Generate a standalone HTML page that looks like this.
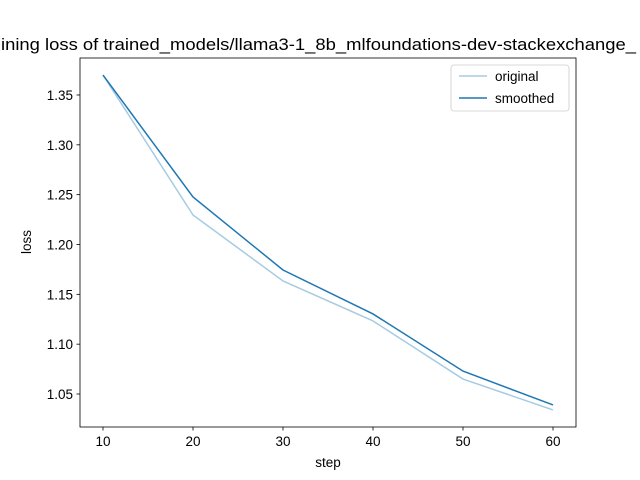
<!DOCTYPE html>
<html><head><meta charset="utf-8"><style>
html,body{margin:0;padding:0;background:#fff;overflow:hidden}
svg{display:block;font-family:"Liberation Sans","DejaVu Sans",sans-serif}
</style></head><body>
<svg width="640" height="480" viewBox="0 0 640 480">
<rect width="640" height="480" fill="#fff"/>
<text x="1" y="50" font-size="16.5" fill="#000" textLength="635" lengthAdjust="spacingAndGlyphs">ining loss of trained_models/llama3-1_8b_mlfoundations-dev-stackexchange_</text>
<g id="axes"></g>
<g id="plot"></g>
<rect x="80" y="58" width="496" height="369" fill="none" stroke="#000" stroke-width="0.8"/>
<text x="328" y="467" text-anchor="middle" font-size="13.5">step</text>
<text transform="translate(31,242) rotate(-90)" text-anchor="middle" font-size="13.5">loss</text>
<g>
<rect x="451" y="65" width="118" height="46" rx="3" fill="#fff" fill-opacity="0.8" stroke="#ccc" stroke-width="0.8"/>
<line x1="459" y1="76" x2="487" y2="76" stroke="#a6cbe3" stroke-width="1.5"/>
<text x="495" y="81" font-size="13.5">original</text>
<line x1="459" y1="98" x2="487" y2="98" stroke="#1f77b4" stroke-width="1.5"/>
<text x="495" y="103" font-size="13.5">smoothed</text>
</g>
</svg>
<script>
const steps=[10,20,30,40,50,60];
const original=[1.370,1.2296,1.1634,1.1233,1.065,1.034];
const smoothed=[1.370,1.2477,1.1744,1.1303,1.073,1.039];
const xTicks=[10,20,30,40,50,60];
const yTicks=[1.05,1.10,1.15,1.20,1.25,1.30,1.35];
const NS="http://www.w3.org/2000/svg";
function sx(v){return 103+(v-10)*9;}
function sy(v){return 394-(v-1.05)*996.7;}
const axes=document.getElementById('axes'),plot=document.getElementById('plot');
function mk(t,a,p){const e=document.createElementNS(NS,t);for(const k in a)e.setAttribute(k,a[k]);p.appendChild(e);return e;}
xTicks.forEach(v=>{
 const l=mk('line',{x1:sx(v),x2:sx(v),y1:427,y2:430.5,stroke:'#000','stroke-width':0.8},axes);
 
 
 const t=mk('text',{x:sx(v),y:446,'text-anchor':'middle','font-size':13.5},axes);
 
 
 t.textContent=v;
});
yTicks.forEach(v=>{
 const l=mk('line',{x1:76.5,x2:80,y1:sy(v),y2:sy(v),stroke:'#000','stroke-width':0.8},axes);
 
 
 const t=mk('text',{x:73,y:sy(v)+5,'text-anchor':'end','font-size':13.5},axes);
 
 
 t.textContent=v.toFixed(2);
});
const p1=mk('polyline',{points:steps.map((s,i)=>sx(s)+','+sy(original[i])).join(' '),fill:'none',stroke:'#a6cbe3','stroke-width':1.5},plot);


const p2=mk('polyline',{points:steps.map((s,i)=>sx(s)+','+sy(smoothed[i])).join(' '),fill:'none',stroke:'#1f77b4','stroke-width':1.5},plot);


</script>
</body></html>
